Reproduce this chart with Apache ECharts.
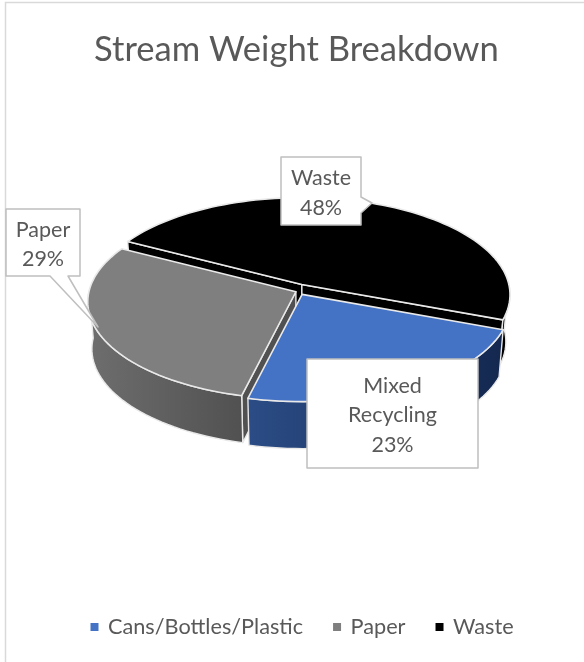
<!DOCTYPE html>
<html><head><meta charset="utf-8">
<style>html,body{margin:0;padding:0;background:#fff}#c{width:584px;height:662px}</style>
<script src="https://cdn.jsdelivr.net/npm/echarts@6/dist/echarts.min.js"></script>
</head><body><div id="c"></div>
<script>
// Data, in the picture's clockwise order starting at the right of the pie
const legendNames = ['Cans/Bottles/Plastic', 'Paper', 'Waste'];
const labelNames = ['Mixed\nRecycling', 'Paper', 'Waste'];
const sliceValues = [23, 29, 48];
const topColors = ['#4472C4', '#7F7F7F', '#000000'];
const wallFrom = ['#2B4C86', '#6E6E6E', '#000000'];
const wallTo = ['#14284F', '#515151', '#000000'];
const chartTitle = 'Stream Weight Breakdown';

const FONT = 'Lato, "Open Sans", sans-serif';
const TEXT = '#595959', EDGE = '#E9E9E9', BOX = '#BFBFBF';
const CX = 300, CY = 289.5, RX = 207, RY = 96, PERSP = 0.105, DEPTH = 47, FIRST_DEG = 20.8;
const EXPLODE_X = 4.5, EXPLODE_Y = 5.5, BOTTOM_SCALE = 0.98;
const total = sliceValues.reduce((a, b) => a + b, 0);
const callouts = [
  {box: [307, 359, 478, 468], ptr: null},
  {box: [6, 209, 80, 276], ptr: [[68, 276], [98, 327], [50, 276]], side: 'bottom'},
  {box: [281, 157, 361, 225], ptr: [[361, 197], [372, 203], [361, 213]], side: 'right'}
];

function project(deg, ox, oy, drop, xScale) {
  const a = deg * Math.PI / 180, u = Math.cos(a), v = Math.sin(a), s = 1 / (1 - PERSP * v);
  return [ox + RX * u * s * xScale, oy + RY * v * s + drop];
}
function poly(points, fill, stroke, lw) {
  return {type: 'polygon', shape: {points}, style: {fill, stroke, lineWidth: lw, lineJoin: 'round'}};
}
function calloutShape(c) {
  const [l, t, r, b] = c.box;
  if (!c.ptr) return [[l, t], [r, t], [r, b], [l, b]];
  if (c.side === 'right') return [[l, t], [r, t], ...c.ptr, [r, b], [l, b]];
  return [[l, t], [r, t], [r, b], ...c.ptr, [l, b]];
}
function faces(deg) { return Math.sin(deg * Math.PI / 180) > 0; }
function makeRender(idx) {
  return function (params, api) {
    const value = api.value(0);
    const before = sliceValues.slice(0, idx).reduce((a, b) => a + b, 0);
    const start = FIRST_DEG + before / total * 360, sweep = value / total * 360, end = start + sweep;
    const mid = (start + end) / 2 * Math.PI / 180;
    const ox = CX + EXPLODE_X * Math.cos(mid), oy = CY + EXPLODE_Y * Math.sin(mid);
    const steps = Math.ceil(sweep / 2), arcTop = [], wallTop = [], wallBot = [];
    for (let i = 0; i <= steps; i++) {
      const d = start + sweep * i / steps;
      arcTop.push(project(d, ox, oy, 0, 1));
      if (Math.sin(d * Math.PI / 180) > -0.04) {
        wallTop.push(project(d, ox, oy, 0, 1));
        wallBot.push(project(d, ox, oy, DEPTH, BOTTOM_SCALE));
      }
    }
    const apex = [ox, oy], apexB = [ox, oy + DEPTH];
    const xs = arcTop.map(p => p[0]), minX = Math.min(...xs), maxX = Math.max(...xs);
    const wallFill = new echarts.graphic.LinearGradient(minX, 0, maxX, 0,
      [{offset: 0, color: wallFrom[idx]}, {offset: 1, color: wallTo[idx]}], true);
    const children = [];
    if (faces(start - 90)) {
      children.push(poly([apex, project(start, ox, oy, 0, 1), project(start, ox, oy, DEPTH, BOTTOM_SCALE), apexB], wallFill, EDGE, 1.4));
    }
    if (faces(end + 90)) {
      children.push(poly([apex, project(end, ox, oy, 0, 1), project(end, ox, oy, DEPTH, BOTTOM_SCALE), apexB], wallFill, EDGE, 1.4));
    }
    children.push(poly(wallTop.concat(wallBot.slice().reverse()), wallFill, EDGE, 1.4));
    children.push(poly([apex].concat(arcTop), topColors[idx], EDGE, 1.6));
    const c = callouts[idx], [l, t, r, b] = c.box;
    children.push(poly(calloutShape(c), '#FFFFFF', BOX, 1.5));
    children.push({type: 'text', style: {
      x: (l + r) / 2, y: (t + b) / 2 + 2,
      text: labelNames[idx] + '\n' + Math.round(value / total * 100) + '%',
      fill: TEXT, font: '21.5px ' + FONT, lineHeight: 29.5, align: 'center', verticalAlign: 'middle'
    }});
    return {type: 'group', children};
  };
}
const order = [2, 1, 0]; // back slice first
const chart = echarts.init(document.getElementById('c'), null, {renderer: 'canvas'});
chart.setOption({
  animation: false,
  backgroundColor: '#fff',
  title: {text: chartTitle, left: 89, top: 27,
    textStyle: {color: TEXT, fontFamily: FONT, fontSize: 34.6, fontWeight: 'normal'}},
  legend: {
    data: legendNames, top: 611, left: 85.5, icon: 'rect', itemWidth: 8, itemHeight: 8, itemGap: 30,
    textStyle: {color: TEXT, fontFamily: FONT, fontSize: 21.7, padding: [0, 0, 0, 4.5]}
  },
  graphic: [{type: 'polyline', silent: true, z: -1,
    shape: {points: [[5.5, 662], [5.5, 2.5], [584, 2.5]]},
    style: {stroke: '#D9D9D9', lineWidth: 1.5, fill: null}}],
  series: order.map(i => ({
    type: 'custom', name: legendNames[i], coordinateSystem: 'none',
    itemStyle: {color: topColors[i]},
    data: [[sliceValues[i]]], renderItem: makeRender(i), silent: true
  }))
});
</script></body></html>
